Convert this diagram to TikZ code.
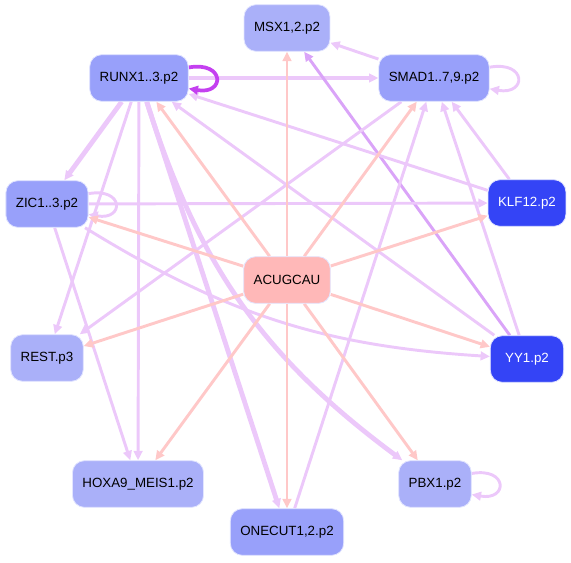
\documentclass[tikz,border=0pt]{standalone}
\usepackage{fontspec}
\setmainfont{Liberation Sans}
\usetikzlibrary{arrows.meta,backgrounds}
\definecolor{nodeline}{RGB}{226,229,255}
\definecolor{genelite}{RGB}{170,176,249}
\definecolor{genemid}{RGB}{152,160,250}
\definecolor{genedark}{RGB}{52,68,246}
\definecolor{mirpink}{RGB}{255,184,184}
\definecolor{edgepink}{RGB}{255,200,200}
\definecolor{edgelav}{RGB}{236,200,250}
\definecolor{edgeviolet}{RGB}{218,164,248}
\definecolor{edgeloop}{RGB}{196,64,240}

\begin{document}
\begin{tikzpicture}[
    x=0.75pt, y=-0.75pt,
    gene/.style={draw=nodeline, line width=0.6pt, rounded corners=9pt,
                 minimum height=35pt, inner xsep=7.5pt,
                 font=\fontsize{10}{12}\selectfont},
    lite/.style={gene, fill=genelite},
    mid/.style={gene, fill=genemid},
    deep/.style={gene, fill=genedark, text=white},
    mirna/.style={gene, fill=mirpink},
    pe/.style={-{Triangle[length=7pt,width=6.5pt]}, line width=2.2pt, draw=edgelav},
    ke/.style={-{Triangle[length=7pt,width=6.5pt]}, line width=2.2pt, draw=edgepink},
    fat/.style={line width=3.6pt}
]
  \useasboundingbox (0,0) rectangle (571,562);

  \node[lite] (msx) at (287,28) {MSX1,2.p2};
  \node[mid] (runx) at (139,78) {RUNX1..3.p2};
  \node[mid] (smad) at (434,78) {SMAD1..7,9.p2};
  \node[mid] (zic) at (47,204) {ZIC1..3.p2};
  \node[deep] (klf) at (527,203) {KLF12.p2};
  \node[mirna] (mir) at (287,280) {ACUGCAU};
  \node[lite] (rest) at (47,358) {REST.p3};
  \node[deep, minimum width=55pt] (yy) at (527,359) {YY1.p2};
  \node[lite] (hoxa) at (138,484) {HOXA9\_MEIS1.p2};
  \node[lite] (pbx) at (435,484) {PBX1.p2};
  \node[mid] (onecut) at (287,532) {ONECUT1,2.p2};

  \begin{pgfonlayer}{background}
  % regulator edges
  \draw[pe, fat] (runx) -- (smad);
  \draw[pe] (smad) -- (msx);
  \draw[pe, draw=edgeviolet] (yy) -- (msx);
  \draw[pe] (yy) -- (smad);
  \draw[pe] (klf) -- (smad);
  \draw[pe] (onecut) -- (smad);
  \draw[pe] (klf) -- (runx);
  \draw[pe] (yy) -- (runx);
  \draw[pe, fat] (runx) -- (zic);
  \draw[pe] (runx) -- (rest);
  \draw[pe] (runx) -- (hoxa);
  \draw[pe, fat] (runx) -- (onecut);
  \draw[pe, fat] (runx) to[bend right=18] (pbx);
  \draw[pe] (smad) -- (rest);
  \draw[pe] (zic) -- (klf);
  \draw[pe] (zic) to[bend right=14] (yy);
  \draw[pe] (zic) -- (hoxa);

  % self loops
  \draw[pe, draw=edgeloop, line width=2.8pt] (runx.12) to[out=10, in=-10, looseness=4.5] (runx.-12);
  \draw[pe] (smad.11) to[out=10, in=-10, looseness=4.5] (smad.-11);
  \draw[pe] (zic.14) to[out=10, in=-10, looseness=4.5] (zic.-14);
  \draw[pe] (pbx.16) to[out=10, in=-10, looseness=4.5] (pbx.-16);

  % miRNA targets
  \foreach \t in {msx, runx, smad, zic, klf, rest, yy, hoxa, pbx, onecut}
    \draw[ke] (mir) -- (\t);
  \end{pgfonlayer}
\end{tikzpicture}
\end{document}
